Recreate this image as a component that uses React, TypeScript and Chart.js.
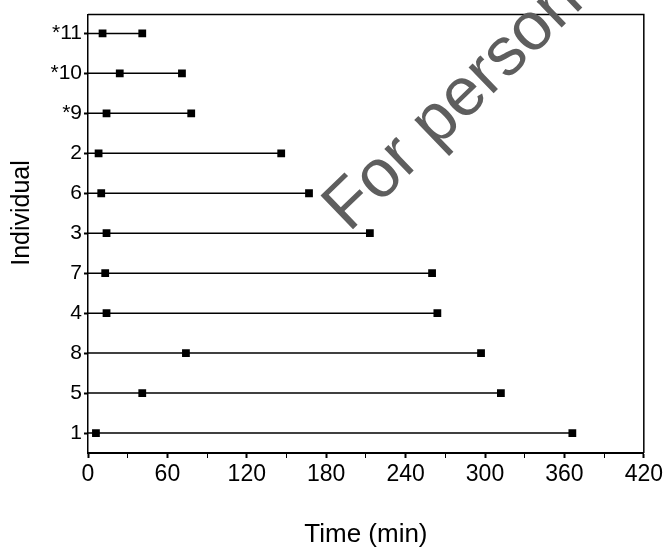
import React, { useEffect, useRef } from 'react';
import { Chart, registerables } from 'chart.js';

Chart.register(...registerables);

// Individuals from bottom (index 0) to top
const individuals = ['1', '5', '8', '4', '7', '3', '6', '2', '*9', '*10', '*11'];
const startTimes = [6, 41, 74, 14, 13, 14, 10, 8, 14, 24, 11];
const endTimes = [366, 312, 297, 264, 260, 213, 167, 146, 78, 71, 41];

const majorTicks = [0, 60, 120, 180, 240, 300, 360, 420];
const minorTicks = [30, 90, 150, 210, 270, 330, 390];

const xTitle = 'Time (min)';
const yTitle = 'Individual';
const watermarkText = 'For personal use only.';

const FONT = '"Liberation Sans", Arial, Helvetica, sans-serif';

const framePlugin = {
  id: 'frameAndText',
  afterDraw(chart: any) {
    const { ctx, chartArea } = chart;
    const { left, right, top, bottom } = chartArea;
    ctx.save();
    // top & right frame lines
    ctx.strokeStyle = '#000';
    ctx.lineWidth = 1.5;
    ctx.beginPath();
    ctx.moveTo(left, top);
    ctx.lineTo(right, top);
    ctx.lineTo(right, bottom);
    ctx.stroke();

    // y title
    ctx.fillStyle = '#000';
    ctx.font = `25px ${FONT}`;
    ctx.textAlign = 'center';
    ctx.textBaseline = 'middle';
    ctx.translate(22, 213);
    ctx.rotate(-Math.PI / 2);
    ctx.fillText(yTitle, 0, 0);
    ctx.restore();

    // watermark
    ctx.save();
    ctx.fillStyle = '#5e5e5e';
    ctx.font = `68px ${FONT}`;
    ctx.textAlign = 'left';
    ctx.textBaseline = 'alphabetic';
    ctx.translate(349, 233);
    ctx.rotate((-44 * Math.PI) / 180);
    ctx.fillText(watermarkText, 0, 0);
    ctx.restore();
  },
};

export default function App() {
  const ref = useRef<HTMLCanvasElement | null>(null);

  useEffect(() => {
    if (!ref.current) return;
    const datasets = individuals.map((name, i) => ({
      label: name,
      data: [
        { x: 0, y: i },
        { x: startTimes[i], y: i },
        { x: endTimes[i], y: i },
      ],
      showLine: true,
      borderColor: '#000',
      borderWidth: 1.5,
      backgroundColor: '#000',
      pointStyle: 'rect',
      pointRadius: [0, 5.5, 5.5],
      pointBorderWidth: 0,
      pointBackgroundColor: '#000',
    }));

    const chart = new Chart(ref.current, {
      type: 'scatter',
      data: { datasets },
      options: {
        animation: false,
        responsive: false,
        maintainAspectRatio: false,
        layout: { padding: { top: 12, right: 21, left: 0, bottom: 0 } },
        plugins: { legend: { display: false }, tooltip: { enabled: false } },
        scales: {
          x: {
            type: 'linear',
            min: 0,
            max: 420,
            afterBuildTicks: (scale: any) => {
              scale.ticks = [...majorTicks, ...minorTicks]
                .sort((a, b) => a - b)
                .map((v) => ({ value: v }));
            },
            afterFit: (scale: any) => {
              scale.height = 100;
            },
            ticks: {
              autoSkip: false,
              maxRotation: 0,
              padding: 3,
              color: '#000',
              font: { family: FONT, size: 23 },
              callback: (v: any) => (majorTicks.includes(Number(v)) ? String(v) : ''),
            },
            grid: {
              drawOnChartArea: false,
              drawTicks: true,
              tickLength: 5,
              color: '#000',
              tickWidth: (c: any) => (c.tick && majorTicks.includes(c.tick.value) ? 2 : 1),
            },
            border: { display: true, color: '#000', width: 2 },
            title: {
              display: true,
              text: xTitle,
              color: '#000',
              font: { family: FONT, size: 26 },
              padding: { top: 0, bottom: 3 },
            },
          },
          y: {
            type: 'linear',
            min: -0.5,
            max: 10.47,
            afterBuildTicks: (scale: any) => {
              scale.ticks = individuals.map((_, i) => ({ value: i }));
            },
            afterFit: (scale: any) => {
              scale.width = 88;
            },
            ticks: {
              autoSkip: false,
              padding: 2,
              color: '#000',
              font: { family: FONT, size: 21 },
              callback: (v: any) => individuals[Number(v)] ?? '',
            },
            grid: {
              drawOnChartArea: false,
              drawTicks: true,
              tickLength: 4,
              color: '#000',
              tickWidth: 2,
            },
            border: { display: true, color: '#000', width: 1.5 },
          },
        },
      },
      plugins: [framePlugin],
    });
    return () => chart.destroy();
  }, []);

  return (
    <div style={{ position: 'fixed', left: 0, top: 0, width: 666, height: 553, background: '#fff' }}>
      <canvas ref={ref} width={666} height={553} style={{ display: 'block', width: 666, height: 553 }} />
    </div>
  );
}
